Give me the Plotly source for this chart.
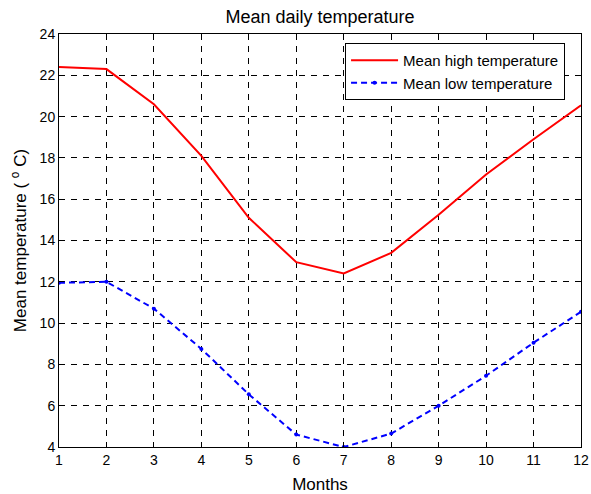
import plotly.graph_objects as go

months = [1, 2, 3, 4, 5, 6, 7, 8, 9, 10, 11, 12]
mean_high = [22.4, 22.3, 20.6, 18.1, 15.1, 12.95, 12.4, 13.4, 15.25, 17.2, 18.9, 20.55]
mean_low = [11.95, 12.0, 10.7, 8.75, 6.55, 4.6, 4.0, 4.65, 6.0, 7.45, 9.05, 10.55]
x_ticks = list(range(1, 13))
y_ticks = list(range(4, 25, 2))

font = "Liberation Sans, Arial, sans-serif"

fig = go.Figure()
fig.add_trace(go.Scatter(x=months, y=mean_high, mode="lines", name="Mean high temperature",
                         line=dict(color="#ff0000", width=2)))
fig.add_trace(go.Scatter(x=months, y=mean_low, mode="lines+markers", name="Mean low temperature",
                         line=dict(color="#0000ff", width=2, dash="6px,4px"),
                         marker=dict(color="#0000ff", size=4)))

axis_common = dict(showline=True, linecolor="black", linewidth=1, mirror="allticks",
                   ticks="inside", ticklen=5, tickcolor="black",
                   showgrid=True, gridcolor="black", gridwidth=1, griddash="6px,6px",
                   zeroline=False, tickfont=dict(family=font, size=14, color="black"))

fig.update_xaxes(range=[1, 12], tickvals=x_ticks,
                 title=dict(text="Months", font=dict(family=font, size=17, color="black"), standoff=11),
                 **axis_common)
fig.update_yaxes(range=[4, 24], tickvals=y_ticks,
                 title=dict(text="Mean temperature ( <sup>o</sup> C)", font=dict(family=font, size=17, color="black"), standoff=8),
                 **axis_common)

fig.update_layout(
    width=591, height=494,
    margin=dict(l=59, r=10, t=34, b=47, autoexpand=False),
    paper_bgcolor="white", plot_bgcolor="white",
    title=dict(text="Mean daily temperature", x=0.5, xanchor="center", xref="paper",
               y=1 - 17 / 494, yanchor="middle", font=dict(family=font, size=18, color="black")),
    legend=dict(x=0.548, y=0.978, xanchor="left", yanchor="top", bordercolor="black", borderwidth=1,
                bgcolor="white", font=dict(family=font, size=15, color="black"),
                tracegroupgap=0, itemwidth=47),
    showlegend=True,
)

fig.write_html("out.html", config={"displayModeBar": False},
               post_script="document.body.style.margin='0';document.body.style.padding='0';")
